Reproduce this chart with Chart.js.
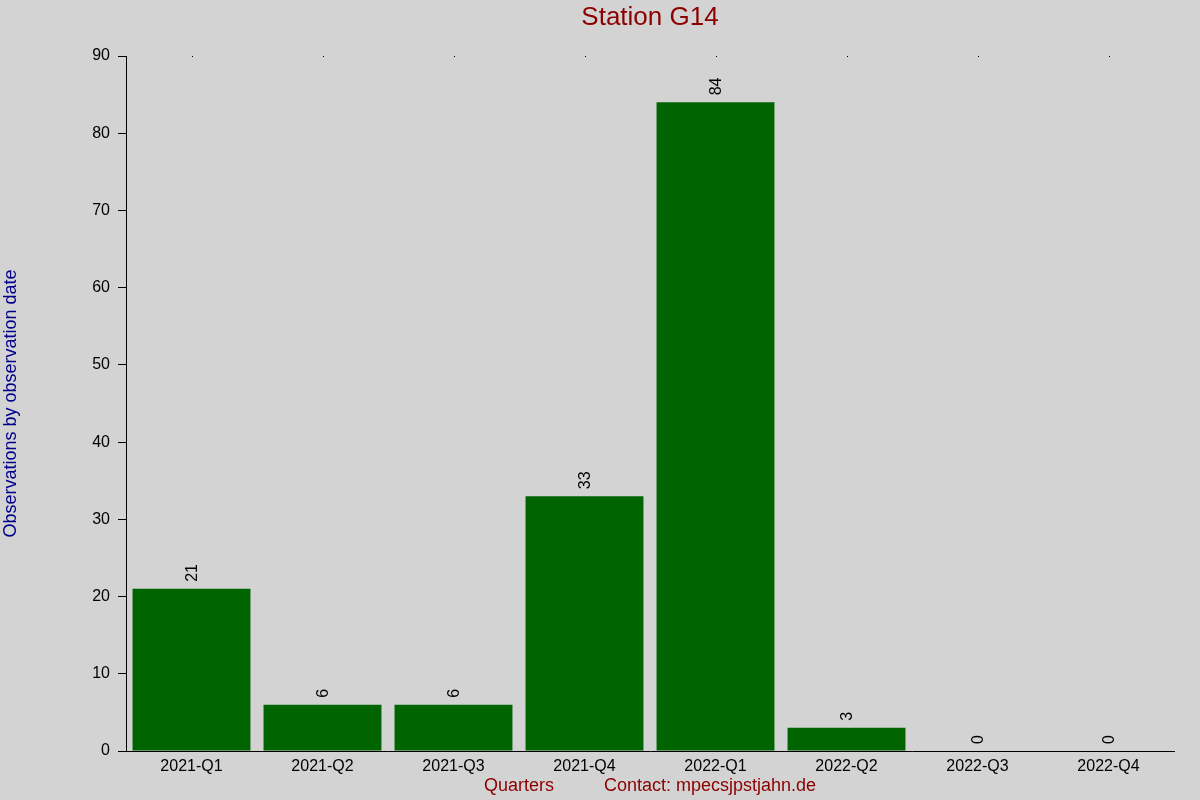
<!DOCTYPE html>
<html>
<head>
<meta charset="utf-8">
<script src="https://cdn.jsdelivr.net/npm/chart.js@4/dist/chart.umd.min.js"></script>
<style>
  html, body { margin: 0; padding: 0; background: #d3d3d3; }
  #wrap { width: 1200px; height: 800px; }
</style>
</head>
<body>
<div id="wrap"><canvas id="myChart" width="1200" height="800"></canvas></div>
<script>
const quarters = ['2021-Q1', '2021-Q2', '2021-Q3', '2021-Q4', '2022-Q1', '2022-Q2', '2022-Q3', '2022-Q4'];
const observations = [21, 6, 6, 33, 84, 3, 0, 0];
const yTicks = [0, 10, 20, 30, 40, 50, 60, 70, 80, 90];
const chartTitle = 'Station G14';

const FONT = "'Liberation Sans', Arial, sans-serif";

// numbers above the bars, turned upright
const barLabels = {
  id: 'barLabels',
  afterDatasetsDraw(chart) {
    const { ctx } = chart;
    const meta = chart.getDatasetMeta(0);
    ctx.save();
    ctx.fillStyle = '#000';
    ctx.font = '16px ' + FONT;
    ctx.textAlign = 'left';
    ctx.textBaseline = 'middle';
    meta.data.forEach((bar, i) => {
      ctx.save();
      ctx.translate(bar.x + 1, bar.y - 7);
      ctx.rotate(-Math.PI / 2);
      ctx.fillText(String(observations[i]), 0, 0);
      ctx.restore();
    });
    ctx.restore();
  }
};

// title centred over the plot, plus little tick dots on the top edge
const topStuff = {
  id: 'topStuff',
  afterDraw(chart) {
    const { ctx, chartArea } = chart;
    const xs = chart.scales.x;
    ctx.save();
    ctx.fillStyle = '#000';
    quarters.forEach((q, i) => {
      ctx.fillRect(Math.round(xs.getPixelForValue(i)), chartArea.top, 1, 1);
    });
    ctx.fillStyle = '#8b0000';
    ctx.font = '26px ' + FONT;
    ctx.textAlign = 'center';
    ctx.textBaseline = 'middle';
    ctx.fillText(chartTitle, (chartArea.left + chartArea.right) / 2, 18);
    ctx.restore();
  }
};

const bg = {
  id: 'bg',
  beforeDraw(chart) {
    const { ctx } = chart;
    ctx.save();
    ctx.fillStyle = '#d3d3d3';
    ctx.fillRect(0, 0, chart.width, chart.height);
    ctx.restore();
  }
};

new Chart('myChart', {
  type: 'bar',
  data: {
    labels: quarters,
    datasets: [{
      data: observations,
      backgroundColor: '#006400',
      borderWidth: 0,
      barPercentage: 0.9,
      categoryPercentage: 1.0
    }]
  },
  options: {
    responsive: false,
    animation: false,
    layout: { padding: { left: 0, right: 26, top: 56, bottom: 0 } },
    plugins: {
      legend: { display: false },
      tooltip: { enabled: false },
      title: { display: false }
    },
    scales: {
      x: {
        afterFit(scale) { scale.height = 49; },
        grid: { display: false, drawTicks: false },
        border: { display: true, color: '#000', width: 1 },
        ticks: {
          color: '#000',
          font: { family: FONT, size: 16 },
          padding: 6,
          maxRotation: 0,
          autoSkip: false
        },
        title: {
          display: true,
          text: 'Quarters          Contact: mpecsjpstjahn.de',
          color: '#8b0000',
          font: { family: FONT, size: 18 },
          padding: { top: 0, bottom: 3 }
        }
      },
      y: {
        min: 0,
        max: 90,
        afterFit(scale) { scale.width = 126; },
        afterBuildTicks(scale) { scale.ticks = yTicks.map(v => ({ value: v })); },
        grid: {
          display: true,
          drawOnChartArea: false,
          drawTicks: true,
          tickLength: 8,
          color: '#000'
        },
        border: { display: true, color: '#000', width: 1 },
        ticks: {
          color: '#000',
          font: { family: FONT, size: 16 },
          padding: 8
        },
        title: {
          display: true,
          text: 'Observations by observation date',
          color: '#00008b',
          font: { family: FONT, size: 18 },
          padding: 0
        }
      }
    }
  },
  plugins: [bg, barLabels, topStuff]
});
</script>
</body>
</html>
